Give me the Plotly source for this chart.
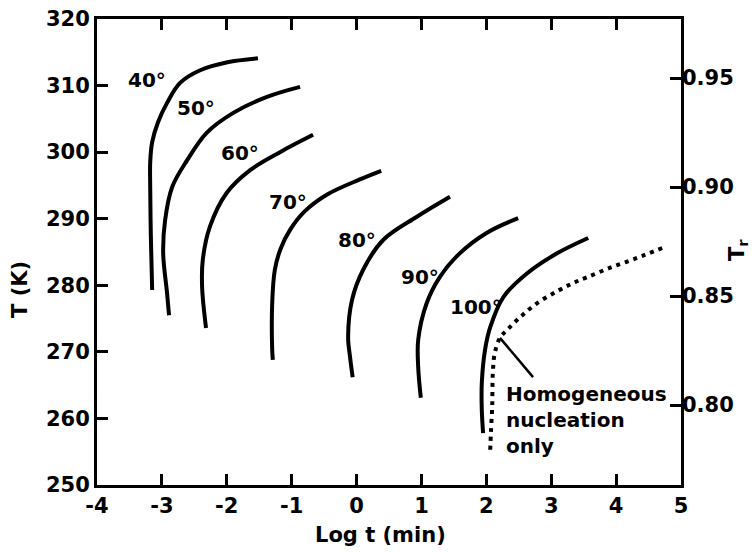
import plotly.graph_objects as go

# ---- data ----
TC = 327.5  # T / Tr scale
x_ticks = [-4, -3, -2, -1, 0, 1, 2, 3, 4, 5]
x_tick_text = ["-4", "-3", "-2", "-1", "0", "1", "2", "3", "4", "5"]
y_ticks = [250, 260, 270, 280, 290, 300, 310, 320]
tr_ticks = [0.80, 0.85, 0.90, 0.95]
tr_tick_text = ["0.80", "0.85", "0.90", "0.95"]

c40_x = [-1.52, -1.99, -2.41, -2.72, -2.92, -3.06, -3.15, -3.18, -3.18, -3.17, -3.15]
c40_y = [314.1, 313.5, 312.3, 310.4, 307.4, 304.5, 301.5, 298.5, 294.8, 287.3, 279.3]
c50_x = [-0.87, -1.38, -1.90, -2.31, -2.61, -2.84, -2.95, -2.98, -2.92, -2.89]
c50_y = [309.8, 308.3, 305.9, 302.9, 298.8, 294.8, 289.8, 284.8, 278.8, 275.5]
c60_x = [-0.67, -1.18, -1.64, -2.00, -2.26, -2.37, -2.38, -2.32]
c60_y = [302.6, 300.0, 297.3, 293.9, 288.8, 283.8, 279.7, 273.6]
c70_x = [0.38, 0.05, -0.46, -0.80, -1.02, -1.17, -1.26, -1.30, -1.30, -1.29]
c70_y = [297.2, 295.9, 293.6, 291.1, 288.4, 285.5, 282.3, 277.3, 270.3, 268.8]
c80_x = [1.44, 0.93, 0.41, 0.10, -0.07, -0.13, -0.10, -0.06]
c80_y = [293.3, 290.3, 286.8, 282.3, 277.8, 272.2, 269.2, 266.2]
c90_x = [2.49, 2.01, 1.59, 1.28, 1.08, 0.95, 0.95, 0.99]
c90_y = [290.1, 287.9, 284.8, 281.2, 277.3, 271.8, 267.7, 263.1]
c100_x = [3.57, 3.09, 2.63, 2.26, 2.06, 1.98, 1.93, 1.93, 1.95]
c100_y = [287.1, 284.8, 281.8, 278.2, 273.7, 270.3, 265.3, 261.3, 257.8]
homo_x = [4.71, 4.32, 3.90, 3.55, 3.33, 3.09, 2.78, 2.52, 2.32, 2.21, 2.13, 2.10, 2.09, 2.07, 2.06]
homo_y = [285.6, 284.1, 282.6, 281.2, 280.3, 279.1, 277.3, 275.2, 273.3, 272.1, 269.8, 266.8, 261.7, 257.8, 255.3]
pointer_x = [2.21, 2.72]
pointer_y = [272.1, 266.2]

labels = ["40°", "50°", "60°", "70°", "80°", "90°", "100°"]
label_x = [-3.23, -2.47, -1.80, -1.06, 0.01, 0.98, 1.84]
label_y = [310.8, 306.6, 299.9, 292.5, 286.8, 281.2, 276.7]

curves = [(c40_x, c40_y), (c50_x, c50_y), (c60_x, c60_y), (c70_x, c70_y),
          (c80_x, c80_y), (c90_x, c90_y), (c100_x, c100_y)]

FONT = "DejaVu Sans"
fig = go.Figure()
for cx, cy in curves:
    fig.add_trace(go.Scatter(x=cx, y=cy, mode="lines",
                             line=dict(color="black", width=4, shape="spline", smoothing=1.0),
                             showlegend=False, hoverinfo="skip"))
fig.add_trace(go.Scatter(x=homo_x, y=homo_y, mode="lines",
                         line=dict(color="black", width=4, dash="4px,5px", shape="spline", smoothing=1.0),
                         showlegend=False, hoverinfo="skip"))
fig.add_trace(go.Scatter(x=pointer_x, y=pointer_y, mode="lines",
                         line=dict(color="black", width=2.5),
                         showlegend=False, hoverinfo="skip"))
# invisible trace to activate the right axis
fig.add_trace(go.Scatter(x=[x_ticks[0]], y=[y_ticks[0] / TC], yaxis="y2", mode="markers",
                         marker=dict(opacity=0), showlegend=False, hoverinfo="skip"))

for t, lx, ly in zip(labels, label_x, label_y):
    fig.add_annotation(x=lx, y=ly, text=t, showarrow=False,
                       font=dict(family=FONT, size=20, color="black", weight="bold"))

fig.add_annotation(x=2.27, y=259.8, text="Homogeneous<br>nucleation<br>only", showarrow=False,
                   xanchor="left", yanchor="middle", align="left",
                   font=dict(family=FONT, size=20, color="black", weight="bold"))

axis_font = dict(family=FONT, size=21, color="black", weight="bold")
# axis titles placed as paper annotations
fig.add_annotation(xref="paper", yref="paper", x=(380 - 97) / 584, y=(485 - 535) / 466,
                   text="Log t (min)", showarrow=False, xanchor="center", yanchor="middle",
                   font=axis_font)
fig.add_annotation(xref="paper", yref="paper", x=(20 - 97) / 584, y=(485 - 290) / 466,
                   text="T (K)", showarrow=False, xanchor="center", yanchor="middle",
                   textangle=-90, font=axis_font)
fig.add_annotation(xref="paper", yref="paper", x=(738 - 97) / 584, y=(485 - 250) / 466,
                   text="T<sub>r</sub>", showarrow=False, xanchor="center", yanchor="middle",
                   textangle=-90, font=axis_font)

fig.update_layout(
    width=756, height=552,
    margin=dict(l=97, r=75, t=19, b=67, autoexpand=False),
    paper_bgcolor="white", plot_bgcolor="white",
    font=dict(family=FONT, color="black"),
    xaxis=dict(range=[-4, 5], tickvals=x_ticks, ticktext=x_tick_text, ticks="inside", ticklen=11,
               tickwidth=2.5, tickcolor="black", showline=True, linecolor="black", linewidth=3,
               mirror="ticks", showgrid=False, zeroline=False, tickfont=axis_font, automargin=False),
    yaxis=dict(range=[250, 320], tickvals=y_ticks, ticks="inside", ticklen=11, tickwidth=2.5,
               tickcolor="black", showline=True, linecolor="black", linewidth=3, mirror=True,
               showgrid=False, zeroline=False, tickfont=axis_font, automargin=False),
    yaxis2=dict(range=[250 / TC, 320 / TC], tickvals=tr_ticks, ticktext=tr_tick_text,
                overlaying="y", side="right", ticks="inside", ticklen=11, tickwidth=2.5,
                tickcolor="black", showline=False, showgrid=False, zeroline=False, tickfont=axis_font,
                automargin=False),
)
fig.write_html("out.html")
